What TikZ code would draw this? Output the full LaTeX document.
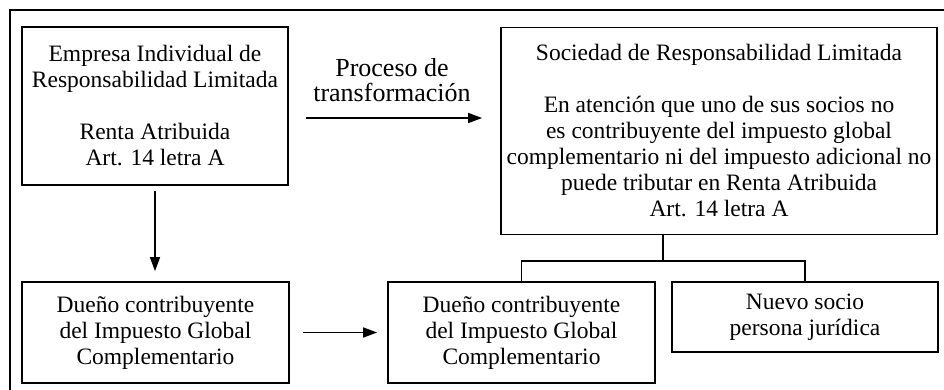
\documentclass[tikz,border=0pt]{standalone}
\usepackage{fontspec}
\setmainfont{Liberation Serif}
\usepackage{tikz}
\usetikzlibrary{arrows.meta,calc}

\tikzset{
  caja/.style={draw, line width=0.85pt, inner sep=2pt, align=center,
    font=\fontsize{11.75}{13}\selectfont},
  flecha/.style={line width=0.75pt, -{Triangle[length=7pt,width=5pt]}},
}

\begin{document}
\begin{tikzpicture}[x=0.5pt, y=-0.5pt]
    \useasboundingbox (0,0) rectangle (944,390);
    \draw[line width=1.1pt] (944,10) -- (10,10) -- (10,390);

    \node[caja, minimum width=133pt, minimum height=79pt] (emp) at (155,106)
        {Empresa Individual de\\Responsabilidad Limitada\\[13pt]Renta Atribuida\\Art. 14 letra A};
    \node[caja, minimum width=218pt, minimum height=103.5pt] (soc) at (719,131)
        {Sociedad de Responsabilidad Limitada\\[13pt]En atención que uno de sus socios no\\es contribuyente del impuesto global\\complementario ni del impuesto adicional no\\puede tributar en Renta Atribuida\\Art. 14 letra A};

    \node[caja, minimum width=133.5pt, minimum height=50.5pt] (duenoA) at (155.5,332.5)
        {Dueño contribuyente\\del Impuesto Global\\Complementario};
    \node[caja, minimum width=133.5pt, minimum height=50.5pt] (duenoB) at (521.5,332.5)
        {Dueño contribuyente\\del Impuesto Global\\Complementario};
    \node[caja, minimum width=133pt, minimum height=35pt] (socio) at (805,317)
        {Nuevo socio\\persona jurídica};

    % transformacion
    \draw[flecha, shorten <=8.5pt, shorten >=9pt] ($(emp.east)+(0,12)$) -- ($(soc.west)+(0,-13)$);
    \node[align=center, font=\fontsize{13}{12.5}\selectfont] (proc) at (392,80) {Proceso de\\transformación};

    \draw[flecha, shorten <=2.5pt, shorten >=5pt] (emp.south) -- (emp.south |- duenoA.north);
    \draw[flecha, shorten <=6.5pt, shorten >=5pt] (duenoA.east) -- (duenoB.west);

    % socios
    \coordinate (fork) at ($(duenoB.north)!0.5!(socio.north)+(0,-20)$);
    \draw[line width=0.85pt] (fork |- soc.south) -- (fork);
    \draw[line width=0.85pt] (duenoB.north) |- (fork) -| (socio.north);

\end{tikzpicture}
\end{document}
